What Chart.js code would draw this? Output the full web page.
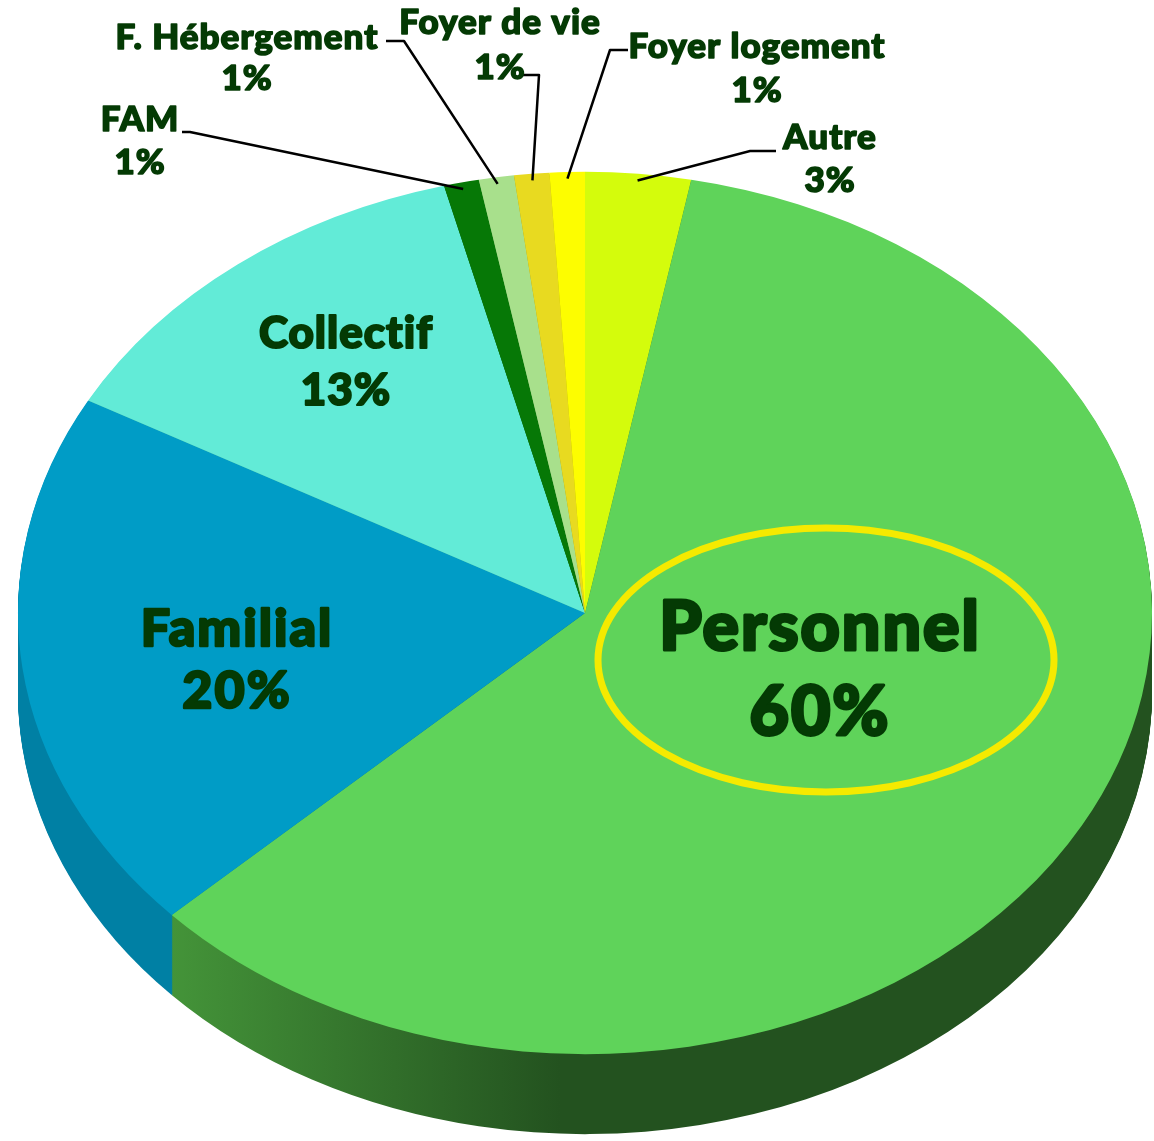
<!DOCTYPE html>
<html lang="fr">
<head>
<meta charset="utf-8">
<title>Répartition par type d'hébergement</title>
<script src="https://cdn.jsdelivr.net/npm/chart.js@4/dist/chart.umd.min.js"></script>
<style>
  html, body { margin: 0; padding: 0; background: #fff; }
  #cadre { width: 1154px; height: 1141px; }
</style>
</head>
<body>
<div id="cadre"><canvas id="camembert" width="1154" height="1141"></canvas></div>
<script>
// données
const categories = ['Autre', 'Personnel', 'Familial', 'Collectif', 'FAM', 'F. Hébergement', 'Foyer de vie', 'Foyer logement'];
const valeurs = [3, 60, 20, 13, 1, 1, 1, 1];

const couleurs = ['#d4fc0c', '#5fd35a', '#009cc6', '#62ebd7', '#067806', '#a8e08c', '#e8da20', '#fdfd00'];
// couleur du flanc (gauche -> droite)
const flancs = [
    ['#8fa800', '#8fa800'],
    ['#449439', '#23521f'],
    ['#0080a4', '#006a88'],
    ['#3aa898', '#3aa898'],
    ['#045204', '#045204'],
    ['#78a862', '#78a862'],
    ['#a89a10', '#a89a10'],
    ['#b0b000', '#b0b000']
];

// mise en page des étiquettes (centre du texte, taille, ligne de rappel)
const placements = [
    { x: 830, y: 138, taille: 35, ecart: 43, ligne: [[776, 151], [750, 151]] },
    { x: 820, y: 628, taille: 68, ecart: 85, ellipse: true },
    { x: 237, y: 629, taille: 52, ecart: 62 },
    { x: 346, y: 334, taille: 44, ecart: 57 },
    { x: 140, y: 120, taille: 35, ecart: 43, ligne: [[182, 132], [190, 132]] },
    { x: 247, y: 38, taille: 35, ecart: 41, ligne: [[386, 41], [404, 41]] },
    { x: 500, y: 23, taille: 35, ecart: 45, ligne: [[522, 75], [539, 75]] },
    { x: 757, y: 47, taille: 35, ecart: 44, ligne: [[628, 50], [610, 50]] }
];

const aplat = 0.778;     // écrasement vertical de la face supérieure
const centreEcranY = 613;
const epaisseur = 80;

function projeter(chart, x, y) {
    const arc = chart.getDatasetMeta(0).data[0];
    return { x: x, y: centreEcranY + (y - arc.y) * aplat };
}

function appliquerPerspective(ctx, chart, decalage) {
    const arc = chart.getDatasetMeta(0).data[0];
    ctx.translate(0, centreEcranY + decalage);
    ctx.scale(1, aplat);
    ctx.translate(0, -arc.y);
}

const relief = {
    id: 'relief',
    beforeDatasetsDraw(chart) {
        const ctx = chart.ctx;
        const arcs = chart.getDatasetMeta(0).data;
        for (let d = epaisseur; d >= 1; d--) {
            ctx.save();
            appliquerPerspective(ctx, chart, d);
            arcs.forEach((arc, i) => {
                const p = arc.getProps(['x', 'y', 'startAngle', 'endAngle', 'outerRadius'], true);
                const grad = ctx.createLinearGradient(170, 0, 560, 0);
                grad.addColorStop(0, flancs[i][0]);
                grad.addColorStop(1, flancs[i][1]);
                ctx.fillStyle = grad;
                ctx.beginPath();
                ctx.moveTo(p.x, p.y);
                ctx.arc(p.x, p.y, p.outerRadius, p.startAngle, p.endAngle);
                ctx.closePath();
                ctx.fill();
            });
            ctx.restore();
        }
        ctx.save();
        appliquerPerspective(ctx, chart, 0);
    },
    afterDatasetsDraw(chart) {
        chart.ctx.restore();
    },
    afterDraw(chart) {
        const ctx = chart.ctx;
        const arcs = chart.getDatasetMeta(0).data;
        ctx.save();
        ctx.textAlign = 'center';
        ctx.textBaseline = 'middle';
        arcs.forEach((arc, i) => {
            const pl = placements[i];
            if (pl.ligne) {
                const p = arc.getProps(['x', 'y', 'startAngle', 'endAngle', 'outerRadius'], true);
                const milieu = (p.startAngle + p.endAngle) / 2;
                const r = p.outerRadius * 0.985;
                const bout = projeter(chart, p.x + Math.cos(milieu) * r, p.y + Math.sin(milieu) * r);
                ctx.strokeStyle = '#000';
                ctx.lineWidth = 2.5;
                ctx.beginPath();
                ctx.moveTo(pl.ligne[0][0], pl.ligne[0][1]);
                ctx.lineTo(pl.ligne[1][0], pl.ligne[1][1]);
                ctx.lineTo(bout.x, bout.y);
                ctx.stroke();
            }
            if (pl.ellipse) {
                ctx.strokeStyle = '#f5ea00';
                ctx.lineWidth = 7;
                ctx.beginPath();
                ctx.ellipse(826, 660, 228, 132, 0, 0, Math.PI * 2);
                ctx.stroke();
            }
            // texte épaissi par un contour de la même couleur
            ctx.fillStyle = '#043a04';
            ctx.strokeStyle = '#043a04';
            ctx.lineJoin = 'round';
            ctx.lineWidth = pl.taille / 22;
            ctx.letterSpacing = Math.round(pl.taille * 0.03) + 'px';
            ctx.font = '900 ' + pl.taille + 'px Lato, "Open Sans", sans-serif';
            const pct = valeurs[i] + '%';
            ctx.strokeText(categories[i], pl.x, pl.y);
            ctx.fillText(categories[i], pl.x, pl.y);
            ctx.strokeText(pct, pl.x, pl.y + pl.ecart);
            ctx.fillText(pct, pl.x, pl.y + pl.ecart);
        });
        ctx.restore();
    }
};

new Chart(document.getElementById('camembert'), {
    type: 'pie',
    data: {
        labels: categories,
        datasets: [{
            data: valeurs,
            backgroundColor: couleurs,
            borderWidth: 0,
            clip: false
        }]
    },
    options: {
        responsive: false,
        animation: false,
        layout: { padding: { left: 18, right: 2, top: 0, bottom: 0 } },
        plugins: {
            legend: { display: false },
            tooltip: { enabled: false }
        }
    },
    plugins: [relief]
});
</script>
</body>
</html>
